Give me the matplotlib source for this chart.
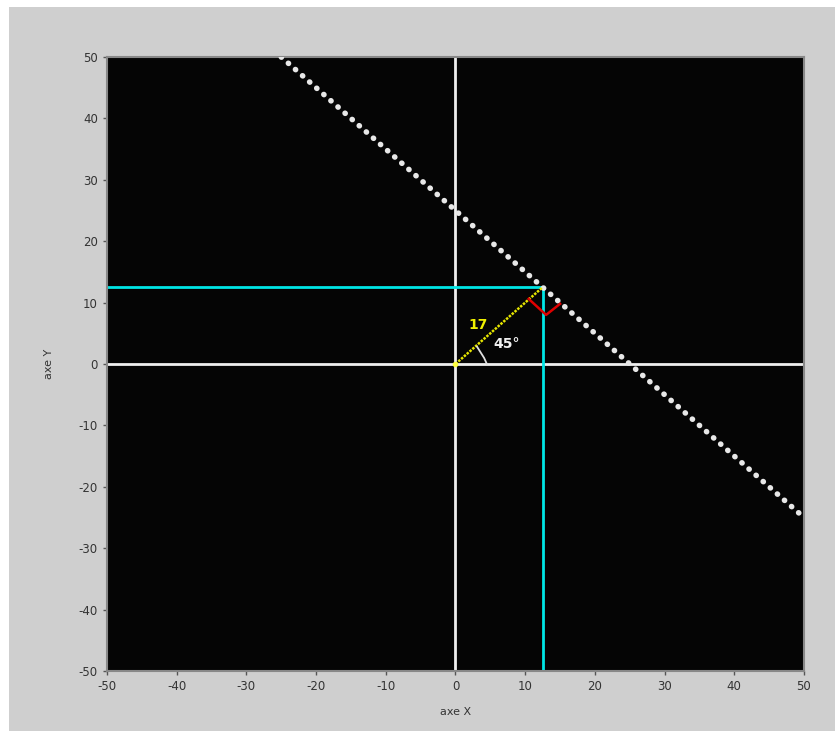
import matplotlib
matplotlib.use("Agg")
import matplotlib.pyplot as plt
from matplotlib.patches import Rectangle

# data
line_x = [-25, 50]
line_y = [50, -25]
foot_x = 12.5
foot_y = 12.5
right_angle_x = [10.5, 13.0, 15.0]
right_angle_y = [10.6, 8.0, 9.8]
arc_x = [3.1, 3.6, 4.1, 4.5]
arc_y = [2.8, 1.9, 1.0, 0.0]
dist_label = "17"
angle_label = "45°"
ticks = [-50, -40, -30, -20, -10, 0, 10, 20, 30, 40, 50]

plt.rcParams["axes.unicode_minus"] = False

fig = plt.figure(figsize=(8.37, 7.31), dpi=100, facecolor="white")
bg = Rectangle((9 / 837, 0), 826 / 837, 1 - 7 / 731,
               transform=fig.transFigure, facecolor="#cfcfcf",
               edgecolor="none", zorder=-10)
fig.add_artist(bg)

ax = fig.add_axes([107 / 837, 1 - 671 / 731, 697 / 837, 614 / 731])
ax.set_facecolor("#050505")
ax.set_xlim(-50, 50)
ax.set_ylim(-50, 50)
ax.set_xticks(ticks)
ax.set_yticks(ticks)
ax.tick_params(labelsize=8.5, labelcolor="#333333", color="#555555", length=3, width=1)
for s in ax.spines.values():
    s.set_color("#888888")
    s.set_linewidth(1.5)

# axes through origin
ax.axhline(0, color="#f0f0f0", lw=2)
ax.axvline(0, color="#f0f0f0", lw=2)

# projections of the foot point
ax.plot([-50, foot_x], [foot_y, foot_y], color="#00e5e5", lw=2)
ax.plot([foot_x, foot_x], [foot_y, -50], color="#00e5e5", lw=2)

# the line (dotted white)
ax.plot(line_x, line_y, color="#e8e8e8", lw=4, linestyle=(0, (0.05, 1.65)),
        dash_capstyle="round", zorder=4)

# distance segment
ax.plot([0, foot_x], [0, foot_y], color="#e6e600", lw=1.8, linestyle=(0, (1, 0.5)), zorder=5)
ax.plot([0], [0], "o", color="#ffff40", ms=3, zorder=6)
ax.plot(right_angle_x, right_angle_y, color="#e00000", lw=1.8, zorder=5)
ax.plot(arc_x, arc_y, color="#e0e0e0", lw=1.3, zorder=5)

ax.text(3.2, 6.4, dist_label, color="#f0f000", fontsize=10, fontweight="bold",
        ha="center", va="center", zorder=6)
ax.text(7.3, 3.3, angle_label, color="#f0f0f0", fontsize=10, fontweight="bold",
        ha="center", va="center", zorder=6)

ax.set_xlabel("axe X", fontsize=8, color="#333333", labelpad=10)
ax.set_ylabel("axe Y", fontsize=8, color="#333333", labelpad=18)

fig.savefig("out.png", dpi=100, facecolor="white")
